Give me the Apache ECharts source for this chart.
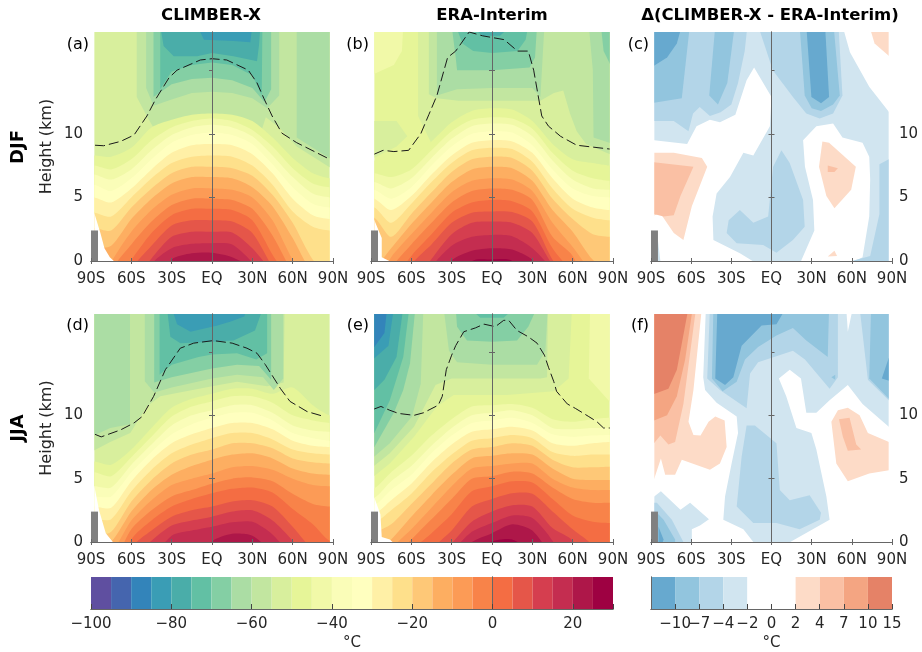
<!DOCTYPE html>
<html><head><meta charset="utf-8">
<style>html,body{margin:0;padding:0;background:#fff}#c{width:922px;height:652px}</style>
<script src="https://cdn.jsdelivr.net/npm/echarts@6/dist/echarts.min.js"></script></head>
<body><div id="c"></div>
<script>
const tempEdges=[-100,-95,-90,-85,-80,-75,-70,-65,-60,-55,-50,-45,-40,-35,-30,-25,-20,-15,-10,-5,0,5,10,15,20,25,30];
const tempColors=['#5f4fa0','#4565ae','#3384ba','#3a9db5','#4aada9','#62c0a4','#84cfa4','#abdda4','#c2e6a0','#d8ef9d','#e6f598','#f1f9a8','#fafdb8','#ffffbf','#fff0a6','#fee08b','#fec877','#fdae61','#fc9b56','#f88349','#f46d43','#e55649','#d53e4f','#c42d50','#ae1749','#9e0142'];
const tempTicks=[-100,-80,-60,-40,-20,0,20];
const diffTicks=['−15','−10','−7','−4','−2','0','2','4','7','10','15'];
const diffColors=['#67a9cf','#92c5de','#b3d5e8','#d1e5f0','#ffffff','#ffffff','#fddbc7','#fac0a4','#f4a582','#e58267'];
const N10=0,N7=1,N4=2,N2=3,WH=4,P2=6,P4=7,P7=8,P10=9;
const latLabels={'-90':'90S','-60':'60S','-30':'30S','0':'EQ','30':'30N','60':'60N','90':'90N'};
const latColumns=[-87.5,-75,-60,-45,-30,-15,0,15,30,45,60,75,87.5];

// isotherm heights (km) at latColumns; first item = band temperature
const aWarm=[
[-50,8.3,8.2,8.9,10.5,11.1,11.5,11.6,11.5,11.0,9.7,8.1,6.9,6.5],
[-45,7.5,7.2,8.0,9.5,10.5,11.0,11.2,11.0,10.3,9.0,7.3,6.1,5.8],
[-40,6.8,6.4,7.2,8.7,9.9,10.5,10.7,10.5,9.8,8.3,6.6,5.3,5.0],
[-35,6.0,5.5,6.5,8.0,9.3,9.9,10.1,9.9,9.2,7.6,5.8,4.5,4.2],
[-30,5.0,4.6,5.7,7.2,8.5,9.1,9.2,9.1,8.4,6.9,4.9,3.6,3.3],
[-25,3.8,3.5,5.0,6.5,7.7,8.2,8.3,8.2,7.5,6.0,3.9,2.7,2.4],
[-20,2.6,2.4,4.2,5.7,6.9,7.4,7.4,7.3,6.7,5.2,3.0,0.1,-1],
[-15,1,1.2,3.3,4.9,6.1,6.6,6.6,6.5,5.8,4.3,1.8,-1,-1.5],
[-10,-3,-0.1,2.3,4.0,5.2,5.7,5.7,5.6,5.0,3.2,0.1,-2,-3],
[-5,-6,-0.8,1.3,3.1,4.4,4.9,4.9,4.8,4.1,2.0,-1,-4,-6],
[0,-9,-2,0.1,2.2,3.6,4.1,4.1,4.0,3.2,0.5,-2,-6,-9],
[5,-9,-6,-0.7,1.2,2.8,3.2,3.2,3.1,2.2,-0.5,-3,-9,-9],
[10,-9,-9,-2,0.2,1.9,2.3,2.3,2.25,1.0,-1,-4,-9,-9],
[15,-9,-9,-5,-0.3,1.0,1.35,1.4,1.3,-0.1,-2,-5,-9,-9],
[20,-9,-9,-6,-3,0.1,0.6,0.65,0.3,-0.6,-3,-6,-9,-9]];
const aCold=[
[-60,[[-56,18.5],[-56,12.9],[-48,11.3],[-30,8],[30,8],[40,11.3],[50,10.5],[63,9],[90,7.2],[90,18.5]]],
[-65,[[-49,18.5],[-49,13.6],[-43.5,12.2],[-30,12.7],[-15,13.2],[0,13.3],[15,13.2],[30,12.8],[41,12],[50,13],[50,18.5]]],
[-65,[[63,18.5],[63,9.7],[75,8.9],[90,7.9],[90,18.5]]],
[-70,[[-43.5,18.5],[-43.5,12.9],[-30,13.9],[-15,14.3],[0,14.4],[15,14.2],[30,13.6],[39,12.5],[44,13.5],[44,18.5]]],
[-75,[[-38.5,18.5],[-38.5,13.5],[-30,14.9],[-15,15.4],[0,15.6],[15,15.4],[30,14.6],[37,13],[37.5,18.5]]],
[-80,[[-38.5,18.5],[-36,16.9],[-28.5,16.1],[-11,16.1],[0,16.35],[16,16.1],[33.5,15.7],[35,17],[36,18.5]]],
[-85,[[-11,18.5],[-6,17.4],[16,17.3],[28.5,17.2],[30,18.5]]]];
const aTropo=[[-87,9.1],[-80.6,9.06],[-68,9.4],[-58,9.9],[-48.4,11.4],[-42,12.7],[-32,14.4],[-26,15],[-8.7,15.8],[0,15.9],[11,15.8],[27,15],[33.5,14],[38.5,12.8],[44.7,11.4],[52,10.05],[63,9.3],[87.5,8]];
const aGap=[[-90,4],[-87.5,3.75],[-83,2.2],[-80,1],[-76,0.3],[-72,-0.1],[-90,-1]];

const bWarm=[
[-50,7.9,7.7,8.2,9.4,10.9,11.8,12,11.9,11,9.2,8,7.7,7.5],
[-45,6.9,6.6,7.2,8.7,10.2,11.1,11.3,11.2,10.4,8.5,7.1,6.5,6.3],
[-40,6.2,5.7,6.5,8.1,9.6,10.6,10.8,10.7,9.8,7.9,6.4,5.7,5.6],
[-35,5.6,4.9,5.8,7.5,9,10,10.2,10.1,9.1,7.2,5.7,5.1,5],
[-30,4.9,4,5.1,6.8,8.3,9.3,9.5,9.4,8.5,6.5,4.9,4.2,4],
[-25,4.2,3,4.5,6.2,7.7,8.7,8.9,8.8,7.8,5.7,4.1,3.4,3.2],
[-20,3.4,1.9,3.7,5.4,7,8,8.2,8.1,7.1,4.9,3.3,2.1,1.9],
[-15,-0.5,1,2.9,4.6,6.2,7.2,7.4,7.3,6.3,4,2.3,0.1,-0.5],
[-10,-2,0.3,2.1,3.8,5.4,6.3,6.5,6.4,5.5,3,1.1,-1,-2],
[-5,-4,-0.6,1.3,3,4.6,5.5,5.7,5.6,4.8,1.9,0.4,-3,-4],
[0,-9,-2,0.4,2.1,3.8,4.6,4.8,4.7,3.9,1,-1,-4,-9],
[5,-9,-4,-0.3,1.3,3,3.8,3.9,3.85,3.1,0.1,-2,-6,-9],
[10,-9,-6,-2,0.15,2.1,3,3.1,3,2.2,-0.3,-2,-9,-9],
[15,-9,-9,-4,-0.5,1.2,1.9,2.05,1.95,1,-0.7,-3,-9,-9],
[20,-9,-9,-6,-2,0.05,0.8,1,0.9,0.1,-2,-5,-9,-9],
[25,-9,-9,-9,-6,-3,-0.02,0.12,0,-3,-6,-9,-9,-9]];
const bCold=[
[-45,[[-90,18.5],[-66,18.5],[-67,16.5],[-73,15.4],[-90,14.6]]],
[-55,[[-90,11],[-71,11],[-63,9.8],[-71,9],[-90,8]]],
[-55,[[-55,18.5],[-55,11.4],[-30,6],[36,6],[90,6],[90,18.5]]],
[-60,[[-47,18.5],[-47,13.1],[-41,12.8],[-25,12.6],[36,12.6],[46,13.2],[53,13.4],[58,11.6],[63,10.2],[70,9.2],[90,8.3],[90,18.5]]],
[-65,[[-41,18.5],[-41,13],[-26,13.5],[0,13.6],[30,13.6],[36,12.9],[39,18.5]]],
[-65,[[72,18.5],[75,15],[75.5,9.7],[90,9.2],[90,18.5]]],
[-70,[[-30,18.5],[-27,16],[-26,15],[0,15],[28,15.2],[32,16],[33.5,18.5]]],
[-70,[[81,18.5],[83,16.5],[90,15],[90,18.5]]],
[-75,[[-27,18.5],[-22,17.1],[-14,16.5],[0,16.35],[19,16.5],[25,17.4],[27,18.5]]],
[-80,[[-16,18.5],[-7,17.7],[6,17.7],[14,18.5]]]];
const bTropo=[[-87.5,8.4],[-81,8.7],[-73,8.6],[-62,8.7],[-53,10],[-47,11.5],[-41,13],[-33,16],[-27,16.5],[-17,18],[-7,17.7],[9,17.4],[19,16.5],[27,16.5],[31,15],[37,11.4],[42,10.6],[51,9.8],[63,9.1],[87.5,8.8]];
const bGap=[[-90,3.4],[-87.5,3.2],[-82,1.8],[-82,0.3],[-74.5,-0.1],[-90,-1]];

const cDiff=[
[N2,[[-90,18.5],[-90,9.5],[-87.6,9.5],[-63,9.2],[-56,10.6],[-46,11.1],[-38.5,10.9],[-27,11.5],[-18.6,14.2],[-13,15.2],[0,12.9],[-1.2,10.6],[-13.6,8.3],[-21,8.5],[-31,6.6],[-41,5.3],[-44,3.5],[-43.4,1.65],[-23.6,0.6],[-6.2,-0.5],[20,-0.5],[32,2.4],[31,4.8],[25,7.4],[23.6,9.5],[33.5,10.6],[46,10.8],[53,9.7],[68,9.3],[73,8.2],[73.7,6.4],[73,3.5],[68,0.3],[53,-0.5],[90,-0.5],[90,11.4],[73,13.7],[58.6,16.4],[53,18.5]]],
[N4,[[-90,18.5],[-90,11],[-73,11],[-62,10.2],[-58.6,11.6],[-53.6,12.1],[-46,11.4],[-38,11.7],[-30,12.3],[-25,14],[-20,16.5],[-18,18.5]]],
[N4,[[-10,18.5],[1,15],[16,12.9],[26,11.6],[36,11.2],[46,11.6],[53,13],[50,18.5]]],
[N4,[[7.4,8.7],[13.6,7.7],[23.6,4.8],[24.8,2.7],[16,1.65],[3.7,0.65],[-6.2,1.25],[-26,1.4],[-33.5,2.2],[-32,3.2],[-23.6,4],[-13.6,3],[-2.5,3.5],[1.2,7.4]]],
[N4,[[90,8],[87.6,8],[80.6,7.6],[80.6,3.7],[73.7,0.4],[60,0],[56,-1],[90,-1]]],
[N7,[[-90,18.5],[-90,12.4],[-67,12.8],[-61,18.5]]],
[N7,[[-42,18.5],[-46.5,13],[-40,12.3],[-33,14],[-27.5,18.5]]],
[N7,[[21,18.5],[24.8,13],[30,12],[37,11.8],[46,12.3],[51,13],[46.4,18.5]]],
[N7,[[1,18.5],[6,18],[12,18.5]]],
[N10,[[-90,18.5],[-90,15.2],[-78,16],[-70.7,17.1],[-67,18.5]]],
[N10,[[26,18.5],[29.8,12.9],[37,12.4],[43,12.9],[40,18.5]]],
[P2,[[73,18.5],[77,17.1],[90,15.9],[90,18.5]]],
[P4,[[84,18.5],[90,18.5],[90,17.9]]],
[P2,[[-90,8.5],[-73,8.5],[-52,8.1],[-48,7.4],[-59.5,4.3],[-65.8,1.65],[-73,2.2],[-83,3.75],[-90,3.5]]],
[P4,[[-90,7.8],[-58.3,7.4],[-68,5.1],[-73,3.6],[-80.6,3.5],[-90,3.75]]],
[P2,[[38,9.4],[43,9.3],[63,7.4],[59.5,5.6],[47,4.15],[41,5.1],[35.5,7.4]]],
[P4,[[42,7.5],[49.6,7.3],[47,7],[42,7]]],
[P2,[[42,0.35],[47,0.8],[49,0.4]]],
[N2,[[-85.7,2.4],[-83,0],[-86,0]]]];

const dWarm=[
[-50,6.35,6.1,7.3,9,10.6,11.3,11.7,12.1,12.1,11.7,12.2,10.8,10],
[-45,5.5,5.2,6.7,8.3,9.9,10.7,11.1,11.5,11.5,11,10,9.6,9.4],
[-40,4.4,4.3,6.1,7.7,9.2,10,10.4,10.8,10.8,10.2,9.2,8.8,8.7],
[-35,3.6,3.6,5.5,7.1,8.5,9.3,9.8,10.2,10.2,9.6,8.6,8.2,8],
[-30,2.8,2.7,4.8,6.5,7.8,8.5,9,9.4,9.4,8.9,8,7.6,7.5],
[-25,1.8,1.8,4,5.7,7,7.7,8.2,8.6,8.6,8.1,7.3,7,6.9],
[-20,0.5,0.8,3.2,4.9,6.2,6.9,7.3,7.8,7.8,7.4,6.6,6.3,6.2],
[-15,-0.5,0,2.4,4.1,5.3,6,6.5,6.9,7,6.6,5.8,5.4,5.3],
[-10,-1,-0.8,1.7,3.3,4.5,5,5.4,5.9,6,5.7,5,4.5,4.4],
[-5,-3,-2,1,2.5,3.6,4.1,4.6,5,5.1,4.8,3.8,3,2.8],
[0,-9,-4,0.2,1.7,2.8,3.4,3.85,4.2,4.3,3.9,2.6,1.4,0.1],
[5,-9,-6,-0.5,0.9,2,2.5,2.8,3.2,3.3,2.8,1.2,-0.7,-2],
[10,-9,-9,-1.5,0.1,1.3,1.7,2,2.4,2.5,1.7,0.1,-2,-9],
[15,-9,-9,-5,-1.5,0.5,0.9,1.2,1.55,1.6,0.6,-1.5,-9,-9],
[20,-9,-9,-9,-9,-6,-2,0.05,0.65,0.5,-1,-5,-9,-9]];
const dCold=[
[-60,[[-90,7.1],[-75.7,7.9],[-60.8,8.6],[-48.4,10.7],[-38.5,11.5],[0,12.3],[18.6,12.65],[41,12.3],[53.3,12.6],[54,18.5],[-90,18.5]]],
[-65,[[-90,18.5],[-61,18.5],[-61,9.3],[-75.7,9],[-90,8.3]]],
[-65,[[-50,18.5],[-50,12.7],[-43,11.8],[-30,12.2],[0,12.9],[18.6,13.2],[38,13],[46,12],[53,12.9],[53,18.5]]],
[-70,[[-43,18.5],[-43,12.6],[-30,13],[0,13.7],[18.6,14],[35,13.9],[44,12.8],[44,18.5]]],
[-75,[[-39,18.5],[-39,13.2],[-30,14],[-10,14.6],[0,14.8],[18.6,14.9],[33,14.4],[41,14.9],[41,18.5]]],
[-80,[[-33.5,18.5],[-31,16.2],[-23.5,15.7],[0,15.8],[16,15.9],[32,16.7],[38,18.5]]],
[-85,[[-30,18.5],[-26,17.2],[-16,16.6],[4,17.1],[14,17.4],[24,17.8],[26,18.5]]]];
const dTropo=[[-87,8.5],[-82.4,8.3],[-68,8.85],[-58,9.4],[-52,9.9],[-43.4,11.5],[-34.7,13.6],[-23.6,15.3],[-13.6,15.7],[1,15.9],[15,15.7],[26,15.3],[33.5,14.9],[39.7,14],[51,12.1],[58,11.1],[70.7,10.3],[82,9.95]];
const dGap=[[-90,4.6],[-87.5,4.4],[-84,2.5],[-79,0.7],[-73,-0.1],[-90,-1]];

const eWarm=[
[-45,4.25,5.5,6.8,8.4,9.7,10.7,10.8,10.9,10.6,9.7,9.5,9.7,9.8],
[-40,3.5,4.8,6,7.6,9,10,10.2,10.4,10,9,8.9,9,9],
[-35,2.9,4.1,5.3,7,8.4,9.4,9.6,9.8,9.4,8.5,8.3,8.4,8.45],
[-30,2.2,3.3,4.6,6.3,7.7,8.7,8.9,9.1,8.8,7.8,7.6,7.8,7.9],
[-25,1.5,2.5,3.8,5.5,6.9,8,8.2,8.45,8.2,7.1,6.8,6.9,6.9],
[-20,0.8,1.4,3,4.6,6.2,7.3,7.5,7.8,7.6,6.5,5.9,5.9,5.95],
[-15,-1,0.2,2,3.7,5.3,6.6,6.8,7,6.9,5.8,5,4.9,4.9],
[-10,-2,-0.5,1,2.7,4.4,5.8,6,6.2,6.2,5,4.3,4.1,4.1],
[-5,-4,-1.5,0.2,1.8,3.4,5,5.2,5.55,5.4,4.3,3.4,3.1,3.1],
[0,-9,-3,-0.7,0.7,2.2,4,4.4,4.8,4.7,3.4,2.1,1.6,1.5],
[5,-9,-9,-3,-0.6,0.9,2.8,3.4,3.85,3.8,2.4,1,-0.3,-3],
[10,-9,-9,-9,-1.8,-0.1,1.6,2.4,2.9,2.8,1.1,0.1,-3,-9],
[15,-9,-9,-9,-3,-0.8,0.8,1.5,2.1,1.9,0.1,-3,-9,-9],
[20,-9,-9,-9,-9,-1.5,0,0.7,1.4,0.9,-1.5,-9,-9,-9],
[25,-9,-9,-9,-9,-9,-1,0.05,0.2,-1,-9,-9,-9,-9]];
const eCold=[
[-45,[[73,18.5],[72,12.9],[90,10.8],[90,18.5]]],
[-55,[[-90,5],[-76,6.2],[-58,8.3],[-41,10.7],[-28.5,11.6],[11,11.6],[46,11.9],[57,12.9],[59.5,18.5],[-90,18.5]]],
[-60,[[-90,5.8],[-76,7],[-58,9.1],[-42,12.4],[-30,12.9],[36,12.9],[41,13],[41.5,18.5],[-90,18.5]]],
[-65,[[-36,18.5],[-32,15.1],[-26,14.2],[0,14],[33.5,14],[39.7,15.1],[41.5,18.5]]],
[-70,[[-27,18.5],[-26,17],[-18.6,15.9],[0,15.8],[18.6,15.9],[27,17],[33.5,18.5]]],
[-75,[[-17,18.5],[-8.7,17.7],[8.7,17.7],[17,18.5]]],
[-65,[[-51,18.5],[-53,12.5],[-59.5,9.9],[-76,7.8],[-87.5,6.75],[-90,6.7],[-90,18.5]]],
[-70,[[-57,18.5],[-61,14.1],[-66,12],[-73,10.2],[-87.5,7.5],[-90,7.5],[-90,18.5]]],
[-75,[[-61.5,18.5],[-66,14.6],[-76,11.2],[-87.5,8.6],[-90,8.6],[-90,18.5]]],
[-80,[[-66,18.5],[-71,14.6],[-80,12.8],[-87.5,12],[-90,12],[-90,18.5]]],
[-85,[[-73,18.5],[-77,15.5],[-87.5,14.5],[-90,14.5],[-90,18.5]]],
[-90,[[-78,18.5],[-80,16.5],[-87.5,15.4],[-90,15.4],[-90,18.5]]]];
const eTropo=[[-87.6,10.5],[-82.6,10.7],[-76,10.4],[-69.5,10.15],[-58,10],[-51,10.2],[-40,10.8],[-37,11.5],[-34,13.6],[-30,14.75],[-27,15.5],[-21,16.6],[-12.4,16.9],[-6,17.2],[2.5,17],[8.7,17.5],[12.4,17.5],[18.6,16.7],[27,16.2],[33.5,15.7],[39,14.75],[42,13.8],[46,12.65],[48,11.9],[56,10.9],[62,10.55],[72,9.9],[78,9.5],[83,9],[87.6,9]];
const eGap=[[-90,3.7],[-87.5,3.5],[-83,2.2],[-82,0.4],[-76,0.2],[-73,-0.1],[-90,-1]];

const fDiff=[
[N2,[[-49,18.5],[-51,13],[-49.6,12],[-41,11],[-26,9.9],[-25,8.6],[-29.8,6.2],[-34.7,3.6],[-36,1.75],[-21,1],[-13.6,0],[-13,-1],[14,-1],[14,0],[43.4,1.75],[41,3.6],[33.5,7.3],[29.8,8.6],[18.6,9],[11,11.5],[5.5,12.9],[13.6,13.6],[22,12.9],[26,10.2],[33.5,10.2],[43.4,11.2],[57,12.4],[68,10.9],[87.6,9.1],[90,9],[90,18.5]]],
[WH,[[55.8,18.5],[57,16.6],[60.8,18.5]]],
[N2,[[-90,3.6],[-87.6,3.6],[-82.6,4],[-68,2.55],[-60.8,3.1],[-46.7,1.8],[-53.4,1.3],[-59.5,1],[-59.5,-1],[-90,-1]]],
[N4,[[-90,3.1],[-85.6,3.1],[-74.4,1.75],[-65.8,0],[-65.8,-1],[-90,-1]]],
[N7,[[-85.6,2.3],[-80.6,1.75],[-72,0.2],[-72,-1],[-85.6,-1]]],
[N10,[[-84.4,1.2],[-80.6,0.2],[-84.4,-1]]],
[N4,[[-46,18.5],[-48,12.9],[-38.5,12],[-18.6,10.55],[-16,13.3],[-10,14.2],[16,15.1],[25,14.4],[43.4,12.1],[49.6,13],[49.6,18.5]]],
[N4,[[65.8,18.5],[72,12.8],[87.6,11.2],[90,11.2],[90,18.5]]],
[N4,[[-18.6,9.2],[-12.4,9.2],[3.7,7.8],[6.2,4.1],[13.6,3.3],[28.5,3.7],[37,2.3],[36,1.75],[21,1],[3.7,1.5],[-13.6,1.5],[-26,2.8],[-22.3,6.75]]],
[N7,[[-43.4,18.5],[-44.5,12.9],[-36.5,11.9],[-26,12.65],[-19.8,14.4],[-10,15.4],[3.7,16.3],[16,16.9],[26,15.9],[42,14.6],[43,18.5]]],
[N7,[[74.4,18.5],[73,12.9],[87.6,11.3],[90,11.3],[90,18.5]]],
[N7,[[44.7,13],[47.6,13.2],[47.6,12.8]]],
[N10,[[-40.4,18.5],[-42,12.9],[-34.7,12.4],[-28.5,13],[-22.3,15.5],[-7.4,17.1],[3.7,17.2],[11,18.5]]],
[N10,[[90,15.3],[82.4,12.9],[90,12.65]]],
[P2,[[-90,5],[-87.6,5],[-82.6,6.6],[-79.4,5.3],[-72,5.3],[-67,6.5],[-46,5.7],[-38.5,6.2],[-33.5,7.5],[-35,9.6],[-42,9.9],[-47,9.5],[-53,8.4],[-58.3,8.45],[-62,9.5],[-58.3,12],[-52,18.5],[-90,18.5]]],
[P4,[[-90,7.5],[-83,8.4],[-77,7.7],[-72,7.9],[-65.8,10.9],[-56.3,18.5],[-90,18.5]]],
[P7,[[-90,9.5],[-78,10],[-70.7,11.5],[-64.5,14.4],[-58.8,18.5],[-90,18.5]]],
[P10,[[-90,11.6],[-77,12.1],[-70.7,13.6],[-62,18.5],[-90,18.5]]],
[P2,[[44.7,9.5],[49.6,10.4],[57,10.6],[65.8,10],[72,8.6],[90,7.8],[90,5.7],[73,5.4],[57,4.8],[48.4,6.2]]],
[P4,[[50.4,9.7],[58.3,9.8],[63.3,7.7],[67,7.3],[57,7.2],[53.3,8.3]]]];

const panels=[
 {warm:aWarm,cold:aCold,bg:-55,tropo:aTropo,gap:aGap},
 {warm:bWarm,cold:bCold,bg:-50,tropo:bTropo,gap:bGap},
 {diff:cDiff,gap:null},
 {warm:dWarm,cold:dCold,bg:-55,tropo:dTropo,gap:dGap},
 {warm:eWarm,cold:eCold,bg:-50,tropo:eTropo,gap:eGap},
 {diff:fDiff,gap:null}];
const panelRects=[[91,32,242,229],[371,32,242,229],[651,32,241,229],[91,314,242,228],[371,314,242,228],[651,314,241,228]];
const panelLetters=['(a)','(b)','(c)','(d)','(e)','(f)'];
const textColor='#262626',spine='#666',font='DejaVu Sans';
const tempColor=t=>tempColors[tempEdges.indexOf(t)];

const grid=[],xAxis=[],yAxis=[],series=[];
function addAxes(i,col){
  const baseAxis={min:-90,max:90,interval:30,type:'value',gridIndex:i,z:10,axisLine:{lineStyle:{color:spine,width:1}},splitLine:{show:false}};
  xAxis.push({...baseAxis,position:'bottom',axisTick:{inside:true,length:3,lineStyle:{color:spine}},
    axisLabel:{margin:11,color:textColor,fontSize:15,fontFamily:font,showMinLabel:true,showMaxLabel:true,formatter:v=>latLabels[String(v)]||''}});
  xAxis.push({...baseAxis,position:'top',axisTick:{inside:true,length:3,lineStyle:{color:spine}},axisLabel:{show:false}});
  const yBase={type:'value',min:0,max:18,interval:5,gridIndex:i,z:10,axisLine:{lineStyle:{color:spine,width:1}},splitLine:{show:false},
     axisTick:{inside:true,length:3,lineStyle:{color:spine},customValues:[0,5,10,15]}};
  const lab=(on,m)=>on?{margin:m,color:textColor,fontSize:15,fontFamily:font,showMaxLabel:false,customValues:[0,5,10,15]}:{show:false};
  yAxis.push({...yBase,position:'left',axisLabel:lab(col===0,8),
     ...(col===0?{name:'Height (km)',nameLocation:'middle',nameGap:36,nameTextStyle:{color:textColor,fontSize:16,fontFamily:font}}:{})});
  yAxis.push({...yBase,position:'right',axisLabel:lab(col===2,7)});
}
function layersFor(p){
  const L=[];
  if(p.diff){ p.diff.forEach(d=>L.push({color:diffColors[d[0]],pts:d[1],clip:true})); }
  else{
    L.push({color:tempColor(p.bg),pts:[[-100,-5],[100,-5],[100,25],[-100,25]],clip:true});
    p.cold.forEach(d=>L.push({color:tempColor(d[0]),pts:d[1],clip:true}));
    p.warm.forEach(r=>{
      const h=r.slice(1);
      const pts=[[-100,h[0]],...latColumns.map((la,j)=>[la,h[j]]),[100,h[h.length-1]],[100,-30],[-100,-30]];
      L.push({color:tempColor(r[0]),pts,clip:true,smooth:0.25});
    });
    L.push({color:'#fff',pts:p.gap,clip:true});
  }
  // masked surface box
  L.push({color:'#808080',pts:[[-90,0],[-84.8,0],[-84.8,2.4],[-90,2.4]],clip:false});
  return L;
}
panels.forEach((p,i)=>{
  const r=panelRects[i],col=i%3;
  grid.push({left:r[0],top:r[1],width:r[2],height:r[3],containLabel:false});
  addAxes(i,col);
  const L=layersFor(p);
  series.push({type:'custom',xAxisIndex:i*2,yAxisIndex:i*2,coordinateSystem:'cartesian2d',z:2,clip:false,silent:true,animation:false,
    data:L.map((l,k)=>[0,k/100]),
    renderItem:(params,api)=>{
      const l=L[params.dataIndex];
      const a=api.coord([-87.5,18]),b=api.coord([87.5,0]);
      const el={type:'polygon',shape:{points:l.pts.map(q=>api.coord(q)),smooth:l.smooth||0},style:{fill:l.color,stroke:null}};
      if(l.clip) el.clipPath={type:'rect',shape:{x:a[0],y:a[1],width:b[0]-a[0],height:b[1]-a[1]}};
      return el;
    }});
  if(p.tropo) series.push({type:'line',xAxisIndex:i*2,yAxisIndex:i*2,data:p.tropo,showSymbol:false,symbol:'none',z:3,silent:true,animation:false,
     lineStyle:{color:'#1a1a1a',width:1,type:[10,4]}});
});
// colorbars
function addBar(gridRect,min,max,interval,edges,colors,formatter){
  const i=grid.length;
  grid.push({left:gridRect[0],top:gridRect[1],width:gridRect[2],height:gridRect[3]});
  xAxis.push({type:'value',gridIndex:i,min,max,interval,z:10,position:'bottom',name:'°C',nameLocation:'middle',nameGap:27,
    nameTextStyle:{color:textColor,fontSize:15,fontFamily:font},
    axisLine:{lineStyle:{color:spine}},splitLine:{show:false},axisTick:{inside:true,length:5,lineStyle:{color:'#444'}},
    axisLabel:{margin:8,color:textColor,fontSize:15,fontFamily:font,formatter}});
  xAxis.push({type:'value',gridIndex:i,min,max,interval,position:'top',z:10,axisLine:{lineStyle:{color:spine}},axisTick:{show:false},axisLabel:{show:false},splitLine:{show:false}});
  yAxis.push({type:'value',gridIndex:i,min:0,max:1,position:'left',z:10,axisLine:{lineStyle:{color:spine}},axisTick:{show:false},axisLabel:{show:false},splitLine:{show:false}});
  yAxis.push({type:'value',gridIndex:i,min:0,max:1,position:'right',z:10,axisLine:{lineStyle:{color:spine}},axisTick:{show:false},axisLabel:{show:false},splitLine:{show:false}});
  series.push({type:'custom',xAxisIndex:(i*2),yAxisIndex:(i*2),coordinateSystem:'cartesian2d',silent:true,animation:false,z:2,
    data:colors.map((c,k)=>[edges[k],edges[k+1],k]),
    renderItem:(params,api)=>{
      const a=api.coord([api.value(0),1]),b=api.coord([api.value(1),0]);
      return {type:'rect',shape:{x:a[0],y:a[1],width:b[0]-a[0],height:b[1]-a[1]},style:{fill:colors[api.value(2)]}};
    }});
}
addBar([91,577,522,33],-100,30,20,tempEdges,tempColors,v=>tempTicks.includes(v)?String(v).replace('-','−'):'');
addBar([651,577,241,33],0,10,1,diffTicks.map((_,k)=>k),diffColors,v=>diffTicks[v]);

const txt=(s,x,y,o)=>({type:'text',x,y,style:{text:s,fill:o.fill||'#000',font:`${o.weight||'normal'} ${o.size}px "${font}"`,textAlign:o.align||'center',textVerticalAlign:'middle'},rotation:o.rot||0,z:20});
const graphic=[
 txt('CLIMBER-X',211,16,{weight:'bold',size:16.5}),
 txt('ERA-Interim',492,16,{weight:'bold',size:16.5}),
 txt('Δ(CLIMBER-X - ERA-Interim)',770,16,{weight:'bold',size:16.5}),
 txt('DJF',18,147,{weight:'bold',size:18,rot:Math.PI/2}),
 txt('JJA',18,428,{weight:'bold',size:18,rot:Math.PI/2}),
 ...panelLetters.map((s,i)=>txt(s,panelRects[i][0]-2,i<3?45:326,{size:16,align:'right'}))
];
const chart=echarts.init(document.getElementById('c'),null,{renderer:'canvas'});
chart.setOption({animation:false,backgroundColor:'#fff',grid,xAxis,yAxis,series,graphic});
</script></body></html>
